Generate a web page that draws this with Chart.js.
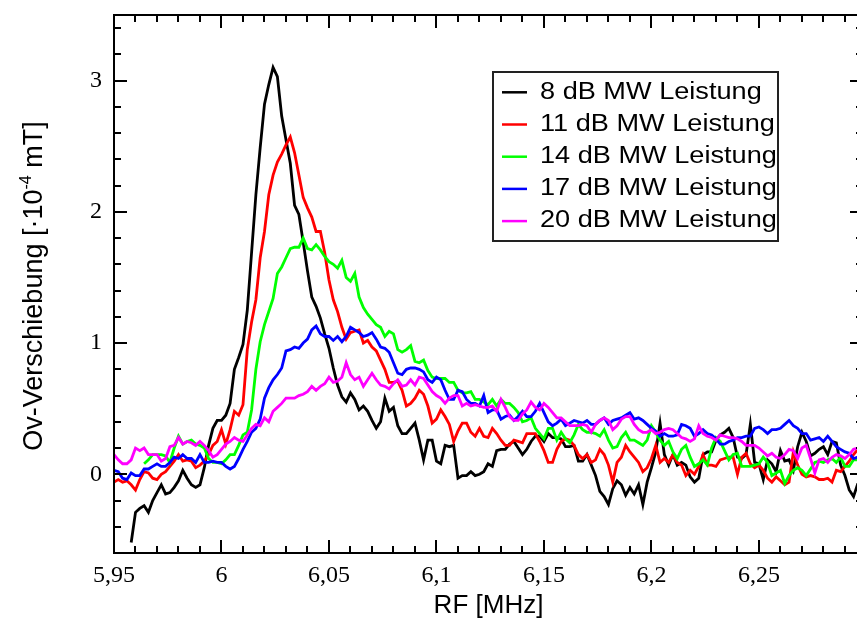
<!DOCTYPE html>
<html>
<head>
<meta charset="utf-8">
<script src="https://cdn.jsdelivr.net/npm/chart.js@4.4.1/dist/chart.umd.min.js"></script>
<style>
  html, body { margin: 0; padding: 0; background: #ffffff; overflow: hidden; }
  #wrap { width: 870px; height: 621px; }
</style>
</head>
<body>
<div id="wrap"><canvas id="c" width="870" height="621"></canvas></div>
<script>
// ---- data (RF frequency in MHz, shift in 1e-4 mT) ----
const freqs = [
  5.950,5.952,5.954,5.956,5.958,5.960,5.962,5.964,5.966,5.968,
  5.970,5.972,5.974,5.976,5.978,5.980,5.982,5.984,5.986,5.988,
  5.990,5.992,5.994,5.996,5.998,6.000,6.002,6.004,6.006,6.008,
  6.010,6.012,6.014,6.016,6.018,6.020,6.022,6.024,6.026,6.028,
  6.030,6.032,6.034,6.036,6.038,6.040,6.042,6.044,6.046,6.048,
  6.050,6.052,6.054,6.056,6.058,6.060,6.062,6.064,6.066,6.068,
  6.070,6.072,6.074,6.076,6.078,6.080,6.082,6.084,6.086,6.088,
  6.090,6.092,6.094,6.096,6.098,6.100,6.102,6.104,6.106,6.108,
  6.110,6.112,6.114,6.116,6.118,6.120,6.122,6.124,6.126,6.128,
  6.130,6.132,6.134,6.136,6.138,6.140,6.142,6.144,6.146,6.148,
  6.150,6.152,6.154,6.156,6.158,6.160,6.162,6.164,6.166,6.168,
  6.170,6.172,6.174,6.176,6.178,6.180,6.182,6.184,6.186,6.188,
  6.190,6.192,6.194,6.196,6.198,6.200,6.202,6.204,6.206,6.208,
  6.210,6.212,6.214,6.216,6.218,6.220,6.222,6.224,6.226,6.228,
  6.230,6.232,6.234,6.236,6.238,6.240,6.242,6.244,6.246,6.248,
  6.250,6.252,6.254,6.256,6.258,6.260,6.262,6.264,6.266,6.268,
  6.270,6.272,6.274,6.276,6.278,6.280,6.282,6.284,6.286,6.288,
  6.290,6.292,6.294,6.296
];

const shift8dB = [
  null,null,null,null,-0.52,-0.29,-0.26,-0.24,-0.29,-0.20,
  -0.14,-0.08,-0.15,-0.14,-0.10,-0.05,0.03,-0.03,-0.08,-0.10,
  -0.08,0.05,0.22,0.35,0.41,0.41,0.45,0.54,0.80,0.89,
  0.99,1.25,1.69,2.13,2.49,2.82,2.97,3.10,3.03,2.73,
  2.55,2.37,2.05,1.98,1.77,1.55,1.35,1.28,1.19,1.07,
  0.96,0.81,0.68,0.59,0.55,0.62,0.57,0.49,0.52,0.48,
  0.41,0.35,0.40,0.58,0.48,0.51,0.37,0.31,0.31,0.35,
  0.39,0.26,0.11,0.26,0.26,0.10,0.08,0.22,0.21,0.22,
  -0.03,-0.01,-0.01,0.02,-0.01,0.00,0.02,0.08,0.06,0.18,
  0.19,0.19,0.23,0.25,0.20,0.15,0.19,0.25,0.29,0.29,
  0.25,0.31,0.28,0.28,0.27,0.21,0.21,0.22,0.10,0.10,
  0.15,0.07,-0.01,-0.13,-0.17,-0.23,-0.11,-0.05,-0.08,-0.16,
  -0.10,-0.15,-0.08,-0.23,-0.06,0.05,0.17,0.39,0.15,0.07,
  0.15,0.07,0.09,0.07,-0.02,-0.06,-0.03,0.15,0.17,0.17,
  0.26,0.30,0.32,0.35,0.28,0.13,0.12,0.15,0.38,0.09,
  0.08,-0.04,0.11,0.08,0.02,0.18,0.10,0.11,0.03,0.21,
  0.32,0.25,0.14,0.16,0.19,0.21,0.15,0.25,0.24,0.07,
  -0.01,-0.12,-0.17,-0.07
];

const shift11dB = [
  -0.06,-0.04,-0.06,-0.05,-0.08,-0.12,-0.04,0.02,0.01,-0.03,
  -0.04,0.00,0.02,0.06,0.10,0.15,0.10,0.11,0.10,0.05,
  0.07,0.10,0.15,0.22,0.25,0.34,0.23,0.34,0.48,0.45,
  0.53,0.95,1.16,1.33,1.65,1.85,2.13,2.28,2.38,2.44,
  2.51,2.57,2.45,2.28,2.11,2.03,1.96,1.85,1.85,1.69,
  1.48,1.33,1.24,1.12,1.03,1.08,1.09,1.10,1.00,1.02,
  0.97,0.94,0.87,0.80,0.70,0.70,0.71,0.64,0.52,0.54,
  0.58,0.64,0.61,0.52,0.39,0.42,0.49,0.44,0.38,0.25,
  0.33,0.39,0.39,0.32,0.29,0.35,0.29,0.28,0.35,0.31,
  0.26,0.22,0.22,0.26,0.25,0.24,0.31,0.31,0.31,0.25,
  0.18,0.09,0.09,0.19,0.25,0.27,0.26,0.22,0.15,0.12,
  0.15,0.09,0.11,0.19,0.15,0.07,-0.06,0.09,0.13,0.22,
  0.17,0.13,0.09,0.02,0.05,0.12,0.22,0.09,0.12,0.09,
  0.15,0.09,0.07,-0.01,0.03,0.00,0.06,0.15,0.07,0.07,
  0.06,0.11,0.12,0.13,0.13,0.00,0.13,0.16,0.08,0.05,
  0.07,0.03,-0.03,-0.06,-0.02,-0.05,-0.08,-0.06,0.17,0.07,
  0.00,-0.02,-0.01,-0.02,-0.04,-0.04,-0.03,-0.06,0.03,0.02,
  0.06,0.10,0.15,0.19
];

const shift14dB = [
  null,null,null,null,null,null,null,0.08,0.11,0.15,
  0.15,0.15,0.14,0.09,0.20,0.29,0.23,0.25,0.26,0.23,
  0.22,0.20,0.12,0.09,0.09,0.08,0.11,0.15,0.15,0.22,
  0.30,0.32,0.49,0.80,1.01,1.14,1.24,1.34,1.53,1.58,
  1.65,1.72,1.73,1.73,1.80,1.72,1.71,1.75,1.71,1.66,
  1.62,1.60,1.57,1.63,1.50,1.47,1.53,1.35,1.27,1.22,
  1.18,1.14,1.12,1.05,1.09,1.07,0.95,0.93,0.95,0.98,
  0.86,0.85,0.87,0.79,0.74,0.73,0.73,0.73,0.70,0.70,
  0.64,0.62,0.62,0.63,0.57,0.57,0.55,0.53,0.57,0.52,
  0.57,0.54,0.54,0.51,0.47,0.40,0.41,0.43,0.35,0.31,
  0.27,0.35,0.35,0.26,0.32,0.27,0.24,0.30,0.38,0.34,
  0.32,0.32,0.31,0.29,0.34,0.26,0.20,0.21,0.28,0.32,
  0.26,0.26,0.24,0.22,0.26,0.37,0.32,0.26,0.22,0.25,
  0.17,0.12,0.19,0.22,0.13,0.06,0.08,0.11,0.07,0.20,
  0.28,0.25,0.18,0.11,0.15,0.16,0.06,0.06,0.06,0.07,
  0.08,0.13,0.09,-0.01,0.01,0.03,-0.07,-0.01,0.03,0.05,
  0.03,-0.01,0.04,0.09,0.10,0.09,0.11,0.12,0.09,0.13,
  0.06,0.06,0.11,0.11
];

const shift17dB = [
  0.03,0.02,-0.03,-0.04,0.01,-0.01,-0.01,0.04,0.04,0.06,
  0.08,0.06,0.06,0.09,0.13,0.12,0.15,0.12,0.12,0.09,
  0.15,0.09,0.09,0.10,0.09,0.09,0.06,0.04,0.06,0.12,
  0.19,0.25,0.32,0.35,0.42,0.58,0.66,0.72,0.76,0.81,
  0.94,0.95,0.97,0.96,1.00,1.03,1.10,1.13,1.07,1.05,
  1.05,1.02,1.05,1.01,1.05,1.12,1.10,1.08,1.05,1.06,
  1.08,1.03,0.97,0.96,0.93,0.85,0.77,0.76,0.80,0.81,
  0.81,0.80,0.78,0.72,0.70,0.74,0.72,0.64,0.57,0.57,
  0.64,0.63,0.57,0.54,0.54,0.52,0.60,0.47,0.49,0.49,
  0.42,0.44,0.45,0.41,0.44,0.48,0.44,0.44,0.48,0.54,
  0.47,0.40,0.37,0.39,0.42,0.37,0.39,0.41,0.40,0.39,
  0.41,0.38,0.38,0.41,0.43,0.38,0.41,0.42,0.43,0.45,
  0.47,0.42,0.43,0.41,0.38,0.35,0.33,0.29,0.31,0.29,
  0.29,0.30,0.38,0.37,0.35,0.29,0.31,0.34,0.31,0.30,
  0.27,0.23,0.23,0.25,0.26,0.28,0.28,0.29,0.29,0.35,
  0.36,0.34,0.31,0.34,0.34,0.35,0.38,0.41,0.37,0.35,
  0.31,0.31,0.26,0.27,0.28,0.25,0.29,0.25,0.21,0.19,
  0.17,0.16,0.12,0.13
];

const shift20dB = [
  0.15,0.11,0.08,0.08,0.11,0.20,0.18,0.20,0.15,0.15,
  0.15,0.10,0.12,0.21,0.22,0.28,0.23,0.25,0.24,0.22,
  0.25,0.22,0.18,0.13,0.15,0.19,0.23,0.25,0.28,0.26,
  0.25,0.30,0.35,0.38,0.37,0.43,0.40,0.48,0.51,0.54,
  0.58,0.58,0.58,0.60,0.61,0.63,0.67,0.64,0.67,0.69,
  0.74,0.70,0.71,0.74,0.85,0.76,0.72,0.74,0.67,0.72,
  0.77,0.72,0.68,0.67,0.65,0.69,0.72,0.67,0.68,0.72,
  0.68,0.74,0.73,0.68,0.63,0.60,0.58,0.54,0.58,0.60,
  0.60,0.52,0.54,0.52,0.53,0.52,0.51,0.51,0.52,0.48,
  0.57,0.51,0.44,0.41,0.41,0.46,0.49,0.55,0.51,0.49,
  0.54,0.51,0.47,0.43,0.43,0.40,0.37,0.37,0.37,0.38,
  0.37,0.32,0.38,0.41,0.43,0.41,0.34,0.37,0.42,0.44,
  0.44,0.38,0.34,0.32,0.32,0.34,0.31,0.32,0.34,0.35,
  0.34,0.31,0.28,0.27,0.25,0.27,0.37,0.31,0.29,0.28,
  0.26,0.30,0.29,0.28,0.28,0.27,0.25,0.22,0.22,0.22,
  0.20,0.17,0.14,0.16,0.13,0.12,0.15,0.19,0.18,0.12,
  0.20,0.22,0.12,0.01,0.11,0.12,0.09,0.13,0.15,0.14,
  0.12,0.15,0.19,0.20
];

const seriesLabels = ['8 dB MW Leistung','11 dB MW Leistung','14 dB MW Leistung','17 dB MW Leistung','20 dB MW Leistung'];
const seriesColors = ['#000000','#ff0000','#00ff00','#0000ff','#ff00ff'];
const seriesValues = [shift8dB, shift11dB, shift14dB, shift17dB, shift20dB];

const xTickValues = [5.95, 6.00, 6.05, 6.10, 6.15, 6.20, 6.25];
const xTickLabels = ['5,95','6','6,05','6,1','6,15','6,2','6,25'];
const yTickValues = [0, 1, 2, 3];
const yTickLabels = ['0','1','2','3'];

const X_MIN = 5.95, X_MAX = 6.2984, Y_MIN = -0.6, Y_MAX = 3.5;

function labelFor(values, labels, v) {
  let best = 0;
  for (let k = 1; k < values.length; k++) {
    if (Math.abs(values[k] - v) < Math.abs(values[best] - v)) best = k;
  }
  return labels[best];
}

// frame + inward ticks on all four sides, titles and legend
const framePlugin = {
  id: 'frame',
  afterDatasetsDraw(chart) {
    const { ctx, chartArea: a, scales: { x, y } } = chart;
    ctx.save();
    ctx.strokeStyle = '#000';
    ctx.lineWidth = 2;
    ctx.lineCap = 'butt';
    ctx.beginPath();
    ctx.rect(a.left, a.top, a.right - a.left, a.bottom - a.top);
    ctx.stroke();
    const MAJ = 13, MIN = 7;
    ctx.beginPath();
    for (let k = 0; k <= 40; k++) {
      const v = 5.95 + k * 0.01;
      if (v > X_MAX + 1e-9) break;
      const px = Math.round(x.getPixelForValue(v));
      const len = (k % 5 === 0) ? MAJ : MIN;
      ctx.moveTo(px, a.bottom); ctx.lineTo(px, a.bottom - len);
      ctx.moveTo(px, a.top); ctx.lineTo(px, a.top + len);
    }
    for (let k = -3; k <= 17; k++) {
      const v = k * 0.2;
      const py = Math.round(y.getPixelForValue(v));
      const len = (k % 5 === 0) ? MAJ : MIN;
      ctx.moveTo(a.left, py); ctx.lineTo(a.left + len, py);
      ctx.moveTo(a.right, py); ctx.lineTo(a.right - len, py);
    }
    ctx.stroke();
    ctx.restore();
  },
  afterDraw(chart) {
    const { ctx } = chart;
    ctx.save();
    ctx.fillStyle = '#000';
    ctx.translate(42, 286);
    ctx.rotate(-Math.PI / 2);
    ctx.textBaseline = 'alphabetic';
    ctx.textAlign = 'left';
    const big = "27px 'Liberation Sans'", small = "16px 'Liberation Sans'";
    const p1 = 'Ov-Verschiebung [·10', p2 = '-4', p3 = ' mT]';
    ctx.font = big; const w1 = ctx.measureText(p1).width, w3 = ctx.measureText(p3).width;
    ctx.font = small; const w2 = ctx.measureText(p2).width;
    const sx = -(w1 + w2 + w3) / 2;
    ctx.font = big; ctx.fillText(p1, sx, 0);
    ctx.font = small; ctx.fillText(p2, sx + w1, -11);
    ctx.font = big; ctx.fillText(p3, sx + w1 + w2, 0);
    ctx.restore();

    ctx.save();
    ctx.strokeStyle = '#222';
    ctx.lineWidth = 2;
    ctx.strokeRect(493, 72, 285, 169);
    chart.data.datasets.forEach((ds, k) => {
      const ly = 92.3 + k * 32.2;
      ctx.strokeStyle = ds.borderColor;
      ctx.lineWidth = 2.5;
      ctx.beginPath(); ctx.moveTo(502, ly); ctx.lineTo(527, ly); ctx.stroke();
      ctx.save();
      ctx.fillStyle = '#000';
      ctx.font = "23px 'Liberation Sans'";
      ctx.textBaseline = 'alphabetic';
      ctx.translate(540, ly + 6.2);
      ctx.scale(1.18, 1);
      ctx.fillText(ds.label, 0, 0);
      ctx.restore();
    });
    ctx.restore();
  }
};

const datasets = seriesValues.map((vals, k) => ({
  label: seriesLabels[k],
  data: freqs.map((f, j) => ({ x: f, y: vals[j] })),
  borderColor: seriesColors[k],
  backgroundColor: seriesColors[k],
  borderWidth: 2.8,
  pointRadius: 0,
  tension: 0,
  fill: false,
  spanGaps: false,
  order: 5 - k
}));

new Chart(document.getElementById('c'), {
  type: 'line',
  data: { datasets },
  options: {
    responsive: false,
    animation: false,
    devicePixelRatio: 1,
    layout: { padding: { top: 15, right: 7, left: 0, bottom: 0 } },
    plugins: { legend: { display: false }, tooltip: { enabled: false } },
    scales: {
      x: {
        type: 'linear',
        min: X_MIN, max: X_MAX,
        grid: { display: false, drawTicks: false },
        border: { display: false },
        afterBuildTicks: (s) => { s.ticks = xTickValues.map(v => ({ value: v })); },
        afterFit: (s) => { s.height = 68; s.paddingLeft = 0; s.paddingRight = 0; },
        ticks: {
          autoSkip: false, maxRotation: 0, padding: 8,
          color: '#000',
          font: { family: 'Liberation Serif', size: 24 },
          callback: (v) => labelFor(xTickValues, xTickLabels, v)
        },
        title: {
          display: true, text: 'RF [MHz]', color: '#000',
          font: { family: 'Liberation Sans', size: 26 },
          padding: { top: 0, bottom: 0 }
        }
      },
      y: {
        type: 'linear',
        min: Y_MIN, max: Y_MAX,
        grid: { display: false, drawTicks: false },
        border: { display: false },
        afterBuildTicks: (s) => { s.ticks = yTickValues.map(v => ({ value: v })); },
        afterFit: (s) => { s.width = 114; s.paddingTop = 0; s.paddingBottom = 0; },
        ticks: {
          autoSkip: false, padding: 12,
          color: '#000',
          font: { family: 'Liberation Serif', size: 24 },
          callback: (v) => labelFor(yTickValues, yTickLabels, v)
        }
      }
    }
  },
  plugins: [framePlugin]
});
</script>
</body>
</html>
